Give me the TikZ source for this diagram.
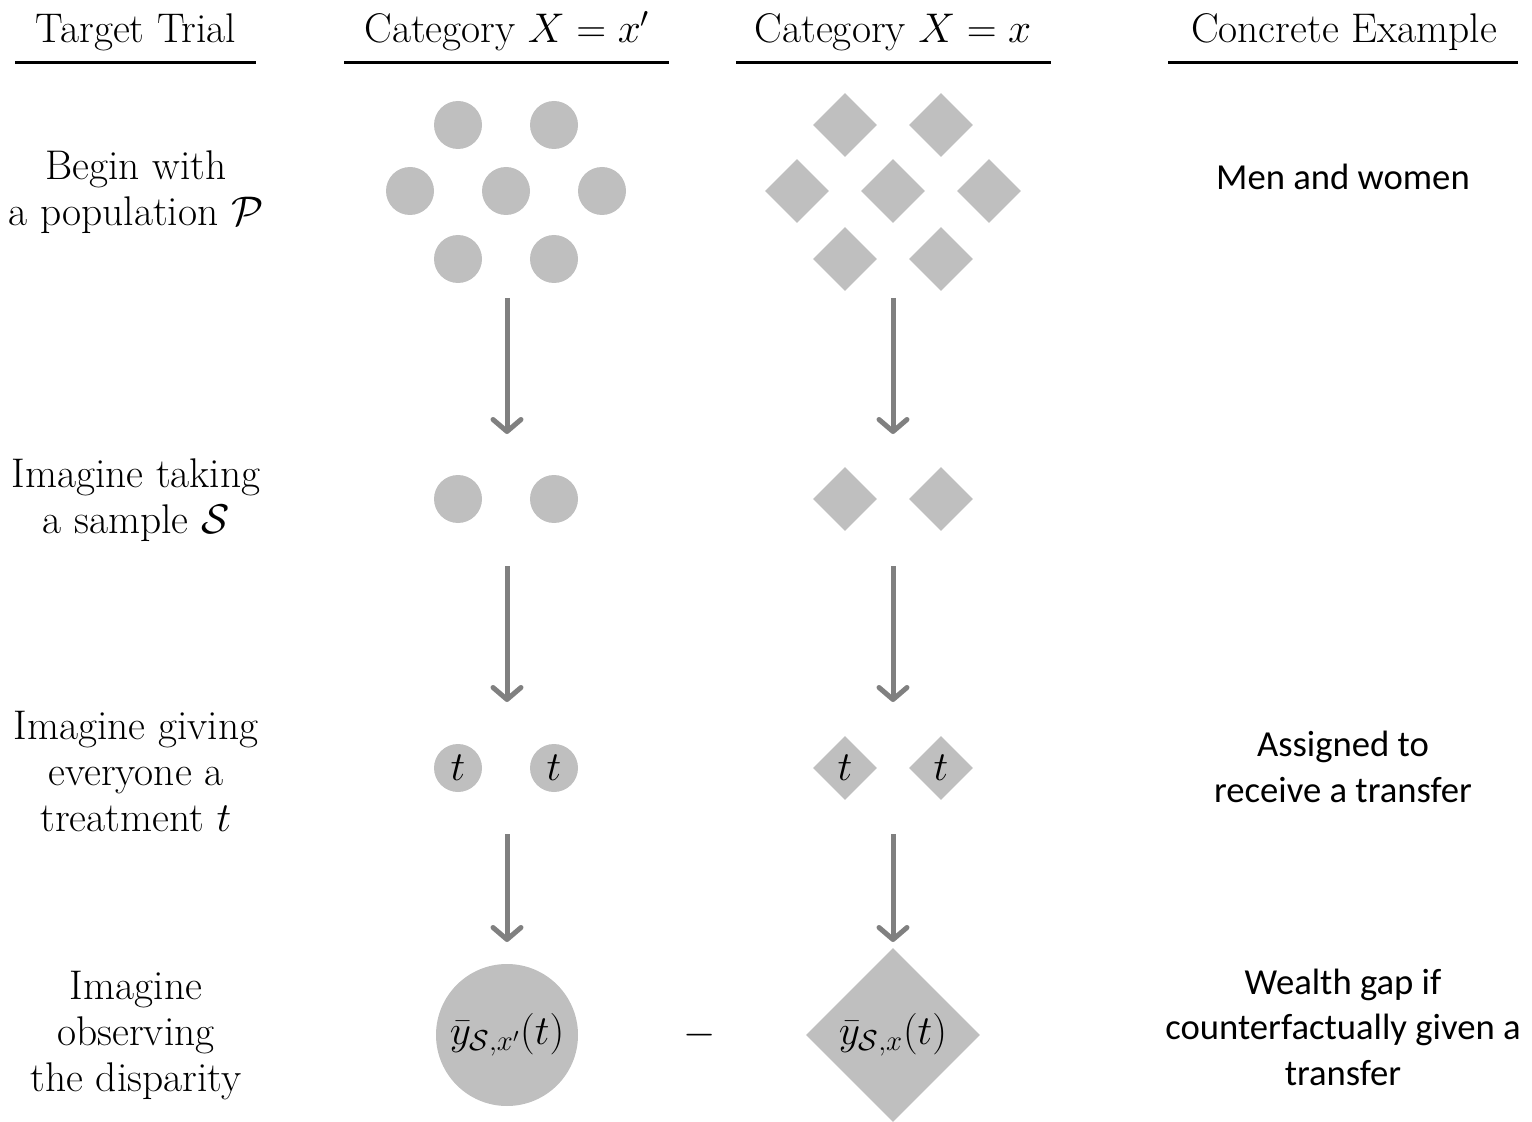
\documentclass[tikz,border=0pt]{standalone}
\usepackage{fontspec}
\setmainfont{Latin Modern Roman}
\newfontfamily\calib{Carlito}
\DeclareMathSizes{24.88}{24.88}{17.28}{12}
\usetikzlibrary{shapes.geometric,arrows.meta}
\definecolor{shapegray}{RGB}{191,191,191}
\definecolor{arrowgray}{RGB}{128,128,128}
\tikzset{
  dot/.style={circle,fill=shapegray,minimum size=28.8pt,inner sep=0pt},
  dia/.style={diamond,fill=shapegray,minimum width=38.4pt,minimum height=38.4pt,inner sep=0pt,aspect=1},
  flow/.style={draw=arrowgray,line width=3pt,-{Straight Barb[length=7.2pt,width=16.8pt,round]}},
  lm/.style={font=\fontsize{24.88}{27.6}\selectfont,align=center,inner sep=0pt},
  cal/.style={font=\calib\fontsize{22}{27.3}\selectfont,align=center,inner sep=0pt},
  hdr/.style={lm,anchor=base},
  rule/.style={line width=1.8pt}
}
\begin{document}
\begin{tikzpicture}[x=0.6pt,y=-0.6pt]
\useasboundingbox (0,0) rectangle (1532,1122);
% headers
\node[hdr] (h1) at (136,43) {Target Trial};
\node[hdr] (h2) at (507,43) {Category $X=x'$};
\node[hdr] (h3) at (893,43) {Category $X=x$};
\node[hdr] (h4) at (1344,43) {Concrete Example};
\draw[rule] (15,63) -- (256,63);
\draw[rule] (344,63) -- (669,63);
\draw[rule] (736,63) -- (1051,63);
\draw[rule] (1168,63) -- (1518,63);
% left column
\node[lm] (l1) at (136,192) {Begin with\\a population $\mathcal{P}$};
\node[lm] (l2) at (136,500) {Imagine taking\\a sample $\mathcal{S}$};
\node[lm] (l3) at (136,772) {Imagine giving\\everyone a\\treatment $t$};
\node[lm] (l4) at (136,1036) {Imagine\\observing\\the disparity};
% right column
\node[cal] (r1) at (1343,177) {Men and women};
\node[cal] (r3) at (1343,767) {Assigned to\\receive a transfer};
\node[cal] (r4) at (1343,1027) {Wealth gap if\\counterfactually given a\\transfer};
% population
\node[dot] (p1) at (458,125) {};
\node[dot] (p2) at (554,125) {};
\node[dot] (p3) at (410,191) {};
\node[dot] (p4) at (506,191) {};
\node[dot] (p5) at (602,191) {};
\node[dot] (p6) at (458,259) {};
\node[dot] (p7) at (554,259) {};
\node[dia] (q1) at (845,125) {};
\node[dia] (q2) at (941,125) {};
\node[dia] (q3) at (797,191) {};
\node[dia] (q4) at (893,191) {};
\node[dia] (q5) at (989,191) {};
\node[dia] (q6) at (845,259) {};
\node[dia] (q7) at (941,259) {};
% sample
\node[dot] (s1) at (458,499) {};
\node[dot] (s2) at (554,499) {};
\node[dia] (u1) at (845,499) {};
\node[dia] (u2) at (941,499) {};
% treatment
\node[dot,lm] (t1) at (458,768) {$t$};
\node[dot,lm] (t2) at (554,768) {$t$};
\node[dia,lm] (v1) at (845,768) {$t$};
\node[dia,lm] (v2) at (941,768) {$t$};
% outcome
\node[dot,lm,minimum size=85.2pt] (o1) at (507,1035) {$\bar{y}_{\mathcal{S},x'}(t)$};
\node[dia,lm,minimum width=104.4pt,minimum height=104.4pt] (o2) at (893,1035) {$\bar{y}_{\mathcal{S},x}(t)$};
\node[lm] (minus) at (700,1035) {$-$};
% arrow end points
\coordinate (a1s) at (507,298); \coordinate (a1e) at (507,434);
\coordinate (a2s) at (507,566); \coordinate (a2e) at (507,702);
\coordinate (a3s) at (507,834); \coordinate (a3e) at (507,942);
\coordinate (b1s) at (893,298); \coordinate (b1e) at (893,434);
\coordinate (b2s) at (893,566); \coordinate (b2e) at (893,702);
\coordinate (b3s) at (893,834); \coordinate (b3e) at (893,942);
\draw[flow] (a1s) -- (a1e);
\draw[flow] (a2s) -- (a2e);
\draw[flow] (a3s) -- (a3e);
\draw[flow] (b1s) -- (b1e);
\draw[flow] (b2s) -- (b2e);
\draw[flow] (b3s) -- (b3e);
\end{tikzpicture}
\end{document}
